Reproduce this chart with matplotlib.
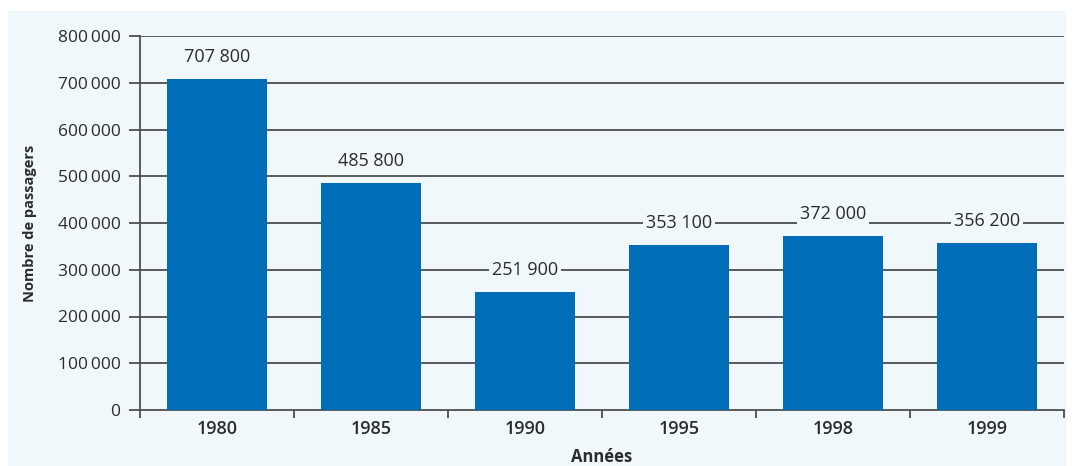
import matplotlib.pyplot as plt
import matplotlib.patches as patches
from matplotlib.ticker import FuncFormatter, FixedLocator

# data
years = ['1980', '1985', '1990', '1995', '1998', '1999']
passengers = [707800, 485800, 251900, 353100, 372000, 356200]
y_ticks = [0, 100000, 200000, 300000, 400000, 500000, 600000, 700000, 800000]

bg = '#f0f8fc'
bar_color = '#006db8'
line_color = '#4d4d4d'
text_color = '#2b2b2b'

plt.rcParams['font.family'] = ['Open Sans', 'DejaVu Sans']

fig = plt.figure(figsize=(10.77, 4.66), dpi=100)
fig.patch.set_facecolor('white')
# light blue panel behind everything
panel = patches.Rectangle((8 / 1077, 0), 1058 / 1077, 455 / 466,
                          transform=fig.transFigure, facecolor=bg,
                          edgecolor='none', zorder=-10)
fig.add_artist(panel)

ax = fig.add_axes([140 / 1077, 1 - 410 / 466, 924 / 1077, 374 / 466])
ax.patch.set_alpha(0)

x = range(len(years))
bars = ax.bar(x, passengers, width=0.65, color=bar_color, zorder=3)

ax.set_xlim(-0.5, len(years) - 0.5)
ax.set_ylim(0, 800000)
ax.set_yticks(y_ticks)
ax.yaxis.set_major_formatter(FuncFormatter(lambda v, p: f'{int(v):,}'.replace(',', '\u2009')))

for t in y_ticks[1:]:
    ax.axhline(t, color=line_color, lw=1.3, zorder=1)

for b, v in zip(bars, passengers):
    ax.annotate(f'{v:,}'.replace(',', ' '), (b.get_x() + b.get_width() / 2, v),
                xytext=(0, 16), textcoords='offset points', ha='center', va='center',
                fontsize=13, color=text_color, zorder=4,
                bbox=dict(facecolor=bg, edgecolor='none', pad=2))

ax.set_xticks(list(x))
ax.set_xticklabels(years, fontsize=13, fontweight='semibold', color=text_color)
ax.xaxis.set_minor_locator(FixedLocator([i - 0.5 for i in range(len(years) + 1)]))
ax.tick_params(axis='x', which='major', length=0, pad=7)
ax.tick_params(axis='x', which='minor', length=6, width=1.3, color=line_color, direction='out')
ax.tick_params(axis='y', length=8, width=1.3, color=line_color, labelsize=12.5,
               labelcolor=text_color, pad=6)

for s in ['top', 'right']:
    ax.spines[s].set_visible(False)
for s in ['left', 'bottom']:
    ax.spines[s].set_color(line_color)
    ax.spines[s].set_linewidth(1.3)

ax.set_xlabel('Années', fontsize=12, fontweight='bold', color=text_color)
ax.set_ylabel('Nombre de passagers', fontsize=10.5, fontweight='bold', color=text_color)
ax.xaxis.set_label_coords(0.5, -0.102)
ax.yaxis.set_label_coords(-0.111, 0.5)

fig.savefig('out.png', dpi=100, facecolor='white')
